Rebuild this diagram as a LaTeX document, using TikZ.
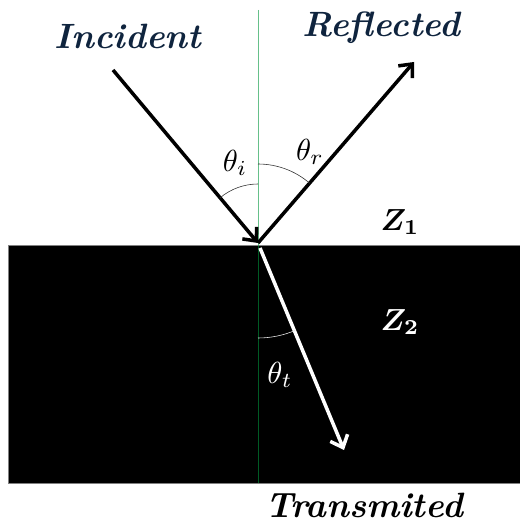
\documentclass[tikz,border=0pt]{standalone}
\usepackage{amsmath, amssymb, bm}
\usepackage{tikz}
\usetikzlibrary{arrows.meta}
\definecolor{navy}{RGB}{15,36,62}
\definecolor{normalgreen}{RGB}{0,150,60}
\newcommand{\anglelabel}[1]{\scalebox{2.6}{$#1$}}
\newcommand{\mediumlabel}[1]{\scalebox{2.6}{$\bm{#1}$}}

\begin{document}
\begin{tikzpicture}[x=0.03cm, y=0.03cm,
	ray/.style={line width=3pt, -{Straight Barb[length=9pt, width=16pt]}},
	title/.style={font=\fontsize{30}{33}\selectfont\bfseries\itshape, text=navy}]
	\useasboundingbox (0,0) rectangle (519,523);
	% --- 介质 2 (黑色区域) ---
	\fill[black, draw=gray] (8,278) rectangle (520,40);
	% 法线
	\coordinate (O) at (258,280);
	\draw[normalgreen, opacity=0.6, line width=0.8pt] (258,513) -- (258,40);
	% --- 入射、反射、透射 ---
	\coordinate (inS) at (113,453);
	\coordinate (refE) at (414,461);
	\coordinate (trS) at (260,275);
	\coordinate (trE) at (344,73);
	\draw[ray] (inS) -- (O);
	\draw[ray] (O) -- (refE);
	\draw[ray, white] (trS) -- (trE);
	% 角度弧
	\draw[black!80, line width=0.5pt] (O) ++(90:59) arc (90:130:59);
	\draw[black!80, line width=0.5pt] (O) ++(49:79) arc (49:90:79);
	\draw[white!80!gray, line width=0.5pt] (O) ++(270:95) arc (270:293:95);
	% 标注
	\node (thI) at (235,360) {\anglelabel{\theta_i}};
	\node (thR) at (310,371) {\anglelabel{\theta_r}};
	\node[text=white] (thT) at (280,148) {\anglelabel{\theta_t}};
	\node (Z1) at (400,301) {\mediumlabel{Z_1}};
	\node[text=white] (Z2) at (400,201) {\mediumlabel{Z_2}};
	\node[title] (inc) at (128,487) {Incident};
	\node[title] (refl) at (381,495) {Reflected};
	\node[title, text=black] (trans) at (364,18) {Transmited};
\end{tikzpicture}
\end{document}
